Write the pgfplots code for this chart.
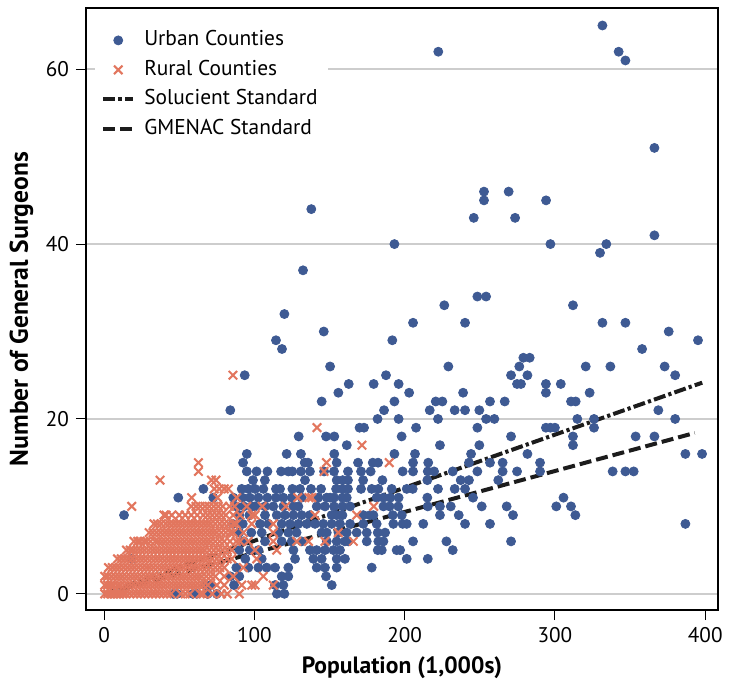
\documentclass[border=0pt]{standalone}
\usepackage{fontspec}
\setmainfont{PT Sans}
\usepackage{pgfplots}
\pgfplotsset{compat=1.18}
\definecolor{urban}{RGB}{62,90,147}
\definecolor{rural}{RGB}{226,118,94}
\definecolor{gridgray}{RGB}{205,205,205}
\definecolor{stdline}{RGB}{28,28,28}
\pgfplotsset{
  markleg/.style={legend image code/.code={\draw[##1] plot coordinates {(7.5pt,0pt)};}},
  lineleg/.style={legend image code/.code={\draw[##1] (0pt,0pt) -- (15pt,0pt);}},
}

\begin{document}
\begin{tikzpicture}
\begin{axis}[
  scale only axis, width=316pt, height=301pt,
  xmin=-12, xmax=408.5, ymin=-1.85, ymax=67,
  xtick={0,100,200,300,400}, ytick={0,20,40,60},
  xtick pos=left, ytick pos=left,
  tick align=outside, major tick length=5pt,
  ymajorgrids, grid style={gridgray, line width=0.75pt},
  axis line style={line width=1pt},
  tick style={black, line width=0.5pt},
  tick label style={font=\fontsize{10.6}{12}\selectfont},
  /pgf/number format/assume math mode=true,
  xlabel={Population (1,000s)}, ylabel={Number of General Surgeons},
  every axis x label/.style={at={(axis description cs:0.5,-0.095)}, anchor=center,
    font=\bfseries\fontsize{11.8}{13}\selectfont},
  every axis y label/.style={at={(axis description cs:-0.102,0.5)}, rotate=90, anchor=center,
    font=\bfseries\fontsize{12.8}{14}\selectfont},
  legend cell align=left,
  legend style={at={(axis description cs:0.014,0.978)}, anchor=north west,
    draw=none, fill=white, font=\fontsize{10.7}{12}\selectfont, column sep=2.5pt,
    row sep=0pt, nodes={inner sep=2pt, text height=8pt, text depth=2.75pt}},
]
% urban counties
\addplot[only marks, mark=*, mark size=2.25pt, color=urban, mark options={fill=urban, draw=urban}, markleg] coordinates {
(331.6,65) (222.4,62) (342.4,62) (346.9,61) (366.2,51) (252.8,46) (269.2,46) (252.8,45) (294.1,45)
(137.9,44) (246,43) (273.5,43) (366.2,41) (193.2,40) (297,40) (334.2,40) (330,39) (132.4,37)
(248.4,34) (254.2,34) (226.4,33) (312,33) (120,32) (205.6,31) (240.2,31) (331.6,31) (346.9,31)
(146.2,30) (375.7,30) (114.4,29) (191.8,29) (395.2,29) (118.4,28) (358,28) (279,27) (283.2,27)
(150.4,26) (229.1,26) (276.3,26) (320.5,26) (336.9,26) (373,26) (93.6,25) (187.6,25) (270.8,25)
(281.7,25) (380,25) (162.8,24) (179.4,24) (196,24) (274.8,24) (277.4,24) (294,24) (303.9,24)
(155.9,23) (203,23) (238.9,23) (294,23) (323.1,23) (144.8,22) (193.2,22) (220.7,22) (225.1,22)
(256.8,22) (266.6,22) (310.7,22) (313.8,22) (84,21) (186.3,21) (216.7,21) (233.3,21) (240.2,21)
(249.7,21) (368.8,21) (182,20) (196,20) (222.2,20) (254.2,20) (259.7,20) (314.9,20) (326,20) (380,20)
(170,19) (173,19) (207.6,19) (248.4,19) (294,19) (297,19) (300,19) (326,19)
(129.5,18) (147.7,18) (153.2,18) (198,18) (270.8,18) (312,18) (353.7,18) (366.2,18)
(161.5,17) (223.5,17) (249.7,17) (312,17)
(95,16) (121.5,16) (131,16) (153.2,16) (193.2,16) (206.9,16) (244.2,16) (281.7,16) (386.8,16) (397.9,16)
(92.5,15) (133.5,15) (135.7,15) (154.8,15) (169,15) (178.8,15) (182.3,15) (205.6,15) (215.7,15)
(242.8,15) (256.8,15) (265.2,15) (290.1,15)
(95,14) (101.5,14) (108.7,14) (117.8,14) (122.6,14) (125.3,14) (131,14) (137,14) (146.4,14) (153,14)
(162.3,14) (171,14) (177.4,14) (198.7,14) (205.6,14) (215.4,14) (219.6,14) (232,14) (248.4,14)
(265.2,14) (274.8,14) (290.1,14) (338.4,14) (346.9,14) (352.4,14)
(99.1,13) (107,13) (133.7,13) (154.8,13) (158.8,13) (162.3,13) (172.4,13) (185.2,13) (215.1,13)
(237.3,13) (242.8,13) (262.3,13)
(66.1,12) (91.6,12) (96,12) (100.5,12) (106,12) (114.4,12) (117.1,12) (125.3,12) (130.4,12) (137.7,12)
(144.4,12) (154.4,12) (158.6,12) (162.3,12) (171,12) (178.1,12) (182.5,12) (191.4,12) (201.4,12)
(205.4,12) (222.2,12) (233.3,12) (240.2,12)
(49.4,11) (72.7,11) (86,11) (92,11) (97,11) (102.7,11) (108.7,11) (114.4,11) (119.3,11) (124.9,11)
(131.5,11) (142.6,11) (148.2,11) (150.4,11) (153,11) (158.6,11) (161.5,11) (181.4,11) (185.9,11)
(190.5,11) (196,11) (215.1,11) (245.5,11) (305.7,11)
(88,10) (93,10) (98,10) (100.5,10) (107.1,10) (112.6,10) (119.3,10) (126,10) (129.3,10) (141.5,10)
(147,10) (153,10) (158.6,10) (163.7,10) (185.9,10) (190,10) (195.8,10) (215.4,10) (223.5,10)
(230.7,10) (251.3,10) (267.9,10) (300.9,10) (310.7,10)
(13.3,9) (90,9) (96.7,9) (107.1,9) (114.9,9) (120.4,9) (126,9) (131.5,9) (137,9) (151.5,9) (154.8,9)
(158.6,9) (172.5,9) (177,9) (179.2,9) (192.1,9) (198.1,9) (223.5,9) (236,9) (272.1,9) (313.6,9)
(85.6,8) (92.3,8) (103.8,8) (109.3,8) (118.2,8) (123.8,8) (129.3,8) (134.9,8) (140.4,8) (145.9,8)
(151.5,8) (157,8) (163.7,8) (172.5,8) (181.4,8) (192.5,8) (198.7,8) (201.4,8) (212.4,8) (240.2,8)
(256.8,8) (386.8,8)
(90,7) (98,7) (104.9,7) (116,7) (122.6,7) (128.1,7) (144.8,7) (148.2,7) (156,7) (161.5,7) (168.1,7)
(174.8,7) (182.1,7) (187,7)
(93,6) (107.1,6) (118.2,6) (124.9,6) (131.5,6) (148.2,6) (154.8,6) (160.3,6) (162.5,6) (174.8,6)
(182.5,6) (185.9,6) (205.6,6) (227.8,6) (270.8,6)
(90,5) (97,5) (102.7,5) (126,5) (137,5) (141.5,5) (147,5) (152.6,5) (157,5) (182.1,5) (184.8,5)
(194.7,5) (197,5) (232,5)
(18.4,4) (94,4) (104.9,4) (127.1,4) (139.3,4) (144.8,4) (154.8,4) (160.3,4) (201.4,4) (215.4,4)
(88,3) (96,3) (102.7,3) (108.2,3) (113.8,3) (122.6,3) (141.5,3) (147,3) (154.8,3) (178.1,3)
(84,2) (90,2) (118.2,2) (122.6,2) (147.7,2)
(67,1) (71,1) (86.5,1) (113.8,1) (119.3,1) (151.5,1)
(46,0) (48.6,0) (59,0) (61.7,0) (69,0) (75,0) (115,0) (120,0)
};
\addlegendentry{Urban Counties}
% rural counties
\addplot[only marks, mark=x, mark size=3pt, color=rural, mark options={line width=1.05pt}, markleg] coordinates {
(0.5,0) (2.5,0) (4.5,0) (6.5,0) (8.5,0) (10.5,0) (12.5,0) (14.5,0) (17,0) (19.5,0) (22,0) (24.5,0)
(27,0) (29.5,0) (32,0) (34.5,0) (37,0) (39.5,0) (42,0) (44.5,0) (51,0) (54,0) (57,0) (64,0) (66,0)
(72,0) (78,0) (82,0) (90,0)
(0.5,1) (2.5,1) (4.5,1) (6.5,1) (9,1) (11,1) (13.5,1) (16,1) (18.5,1) (21,1) (23.5,1) (26,1) (28.5,1)
(31,1) (33.5,1) (36,1) (38.5,1) (41,1) (43.5,1) (46,1) (48.5,1) (51,1) (53.5,1) (56,1) (58.5,1)
(61,1) (63.5,1) (66,1) (69,1) (75,1) (80,1) (91.6,1) (98.3,1) (100.5,1) (112.6,1)
(0.5,2) (2.5,2) (5,2) (7.5,2) (10,2) (12.5,2) (15,2) (17.5,2) (20,2) (22.5,2) (25,2) (27.5,2) (30,2)
(32.5,2) (35,2) (37.5,2) (40,2) (42.5,2) (45,2) (47.5,2) (50,2) (52.5,2) (55,2) (57.5,2) (60,2)
(62.5,2) (65,2) (68,2) (71,2) (74,2) (80,2) (86,2) (106,2)
(3,3) (5.5,3) (8,3) (10.5,3) (13,3) (15.5,3) (18,3) (20.5,3) (23,3) (25.5,3) (28,3) (30.5,3) (33,3)
(35.5,3) (38,3) (40.5,3) (43,3) (45.5,3) (48,3) (50.5,3) (53,3) (55.5,3) (58,3) (60.5,3) (63,3)
(65.5,3) (68,3) (71,3) (74,3) (77,3) (80,3) (92.7,3)
(9,4) (11.5,4) (14,4) (16.5,4) (19,4) (21.5,4) (24,4) (26.5,4) (29,4) (31.5,4) (34,4) (36.5,4) (39,4)
(41.5,4) (44,4) (46.5,4) (49,4) (51.5,4) (54,4) (56.5,4) (59,4) (61.5,4) (64,4) (66.5,4) (69,4)
(72,4) (75,4) (78,4) (82,4) (85,4) (101.6,4)
(15,5) (17.5,5) (19.4,5) (22,5) (24.5,5) (27,5) (29.5,5) (32,5) (34.5,5) (37,5) (39.5,5) (42,5)
(44.5,5) (47,5) (49.5,5) (52,5) (54.5,5) (57,5) (59.5,5) (62,5) (64.5,5) (67,5) (70,5) (73,5) (76,5)
(79,5) (82,5) (85,5) (100.5,5) (114.9,5)
(20,6) (22.5,6) (24,6) (26.5,6) (28.4,6) (31,6) (34,6) (36,6) (38.5,6) (41,6) (43.5,6) (46,6) (48.5,6)
(51,6) (53.5,6) (56,6) (58.5,6) (61,6) (63.5,6) (66,6) (68.5,6) (71,6) (74,6) (77,6) (80,6) (83.8,6)
(88,6) (90.5,6) (96,6) (112.6,6) (128.2,6) (136,6) (147,6) (165.9,6)
(30,7) (32.5,7) (35,7) (37.5,7) (40,7) (42.5,7) (45,7) (47.5,7) (50,7) (52.5,7) (55,7) (57.5,7) (60,7)
(62.5,7) (65,7) (67.5,7) (70,7) (72.5,7) (75,7) (78,7) (81,7) (84,7) (86,7) (92.7,7) (112.6,7) (155.9,7)
(33.2,8) (35.5,8) (38,8) (41,8) (43.5,8) (46,8) (48.5,8) (51,8) (53.5,8) (56,8) (58.5,8) (61,8)
(63.5,8) (66,8) (68.5,8) (71,8) (74,8) (77,8) (80,8) (83,8) (86,8) (88,8) (98.3,8) (112.6,8)
(39.9,9) (41.3,9) (45,9) (50,9) (54,9) (58,9) (62,9) (66,9) (69,9) (72,9) (75,9) (78,9) (81,9) (86,9)
(90.5,9) (98.3,9) (100.5,9) (140.4,9) (168.1,9)
(18.4,10) (58,10) (61.2,10) (64,10) (67.2,10) (70,10) (73,10) (76,10) (79,10) (83.5,10) (86.8,10)
(95,10) (105.3,10) (120.9,10) (179.4,10)
(58.3,11) (75.5,11) (88.3,11) (128.9,11) (136.4,11) (138.2,11)
(73.3,12) (76.7,12) (80,12) (82.7,12)
(37.3,13) (71.5,13) (74.5,13)
(62.8,14) (146.4,14)
(62.8,15) (148,15) (189.8,15)
(171.6,17) (141.7,19) (85.8,25)
};
\addlegendentry{Rural Counties}
% staffing standards
\addplot[stdline, line width=2pt, dash pattern=on 6pt off 1.6pt on 1.6pt off 1.6pt, lineleg]
  coordinates {(0,0) (398,24.15)};
\addlegendentry{Solucient Standard}
\addplot[stdline, line width=2pt, dash pattern=on 6pt off 2.5pt, lineleg]
  coordinates {(0,0) (393,18.4)};
\addlegendentry{GMENAC Standard}
\end{axis}
\pgfresetboundingbox
\path[use as bounding box] ([shift={(-43pt,-35.5pt)}]current axis.south west)
  rectangle ([shift={(7pt,4pt)}]current axis.north east);
\end{tikzpicture}
\end{document}
